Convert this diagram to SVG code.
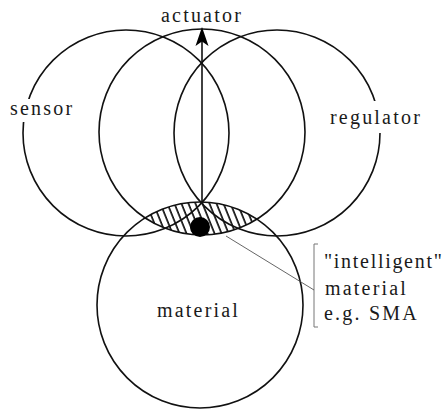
<svg xmlns="http://www.w3.org/2000/svg" width="446" height="409" viewBox="0 0 446 409">
<style>
.c{fill:none;stroke:#111;stroke-width:1.6}
.t{font-family:'Liberation Serif','DejaVu Serif',serif;font-size:20px;letter-spacing:2.2px;fill:#1a1a1a}
.gap{fill:#fff;stroke:none}
</style>
<defs>
<pattern id="hatch" patternUnits="userSpaceOnUse" width="6.5" height="6.5" patternTransform="rotate(-22)">
<line x1="1" y1="0" x2="1" y2="6.5" stroke="#111" stroke-width="1.7"/>
</pattern>
<clipPath id="clipAct"><circle cx="202" cy="132" r="103"/></clipPath>
</defs>
<rect width="446" height="409" fill="#fff"/>
<g id="smart-zone" clip-path="url(#clipAct)">
<circle cx="200" cy="305" r="103" fill="url(#hatch)"/>
</g>
<g id="sensor">
<circle class="c" cx="126" cy="133" r="103"/>
<rect class="gap" x="8" y="99" width="66" height="23"/>
<text class="t" x="10" y="115">sensor</text>
</g>
<g id="actuator">
<circle class="c" cx="202" cy="132" r="103"/>
<text class="t" x="161" y="22">actuator</text>
</g>
<g id="regulator">
<circle class="c" cx="277" cy="133" r="103"/>
<rect class="gap" x="328" y="101" width="94" height="32"/>
<text class="t" x="330" y="124">regulator</text>
</g>
<g id="material">
<circle class="c" cx="200" cy="305" r="103"/>
<text class="t" x="157" y="317">material</text>
</g>
<g id="intelligent-material">
<circle cx="200" cy="227" r="10" fill="#000"/>
<path d="M318,244 H314 V327 H318" fill="none" stroke="#777" stroke-width="1"/>
<text class="t" x="324" y="268" style="letter-spacing:1.7px">"intelligent"</text>
<text class="t" x="325" y="295">material</text>
<text class="t" x="324" y="320">e.g. SMA</text>
</g>
<g id="connectors">
<line x1="202" y1="203" x2="202" y2="40" stroke="#111" stroke-width="1.6"/>
<path d="M202,27 L208.5,46 L202,41.5 L195.5,46 Z" fill="#000"/>
<line x1="226" y1="236" x2="314" y2="290" stroke="#555" stroke-width="0.9"/>
</g>
</svg>
